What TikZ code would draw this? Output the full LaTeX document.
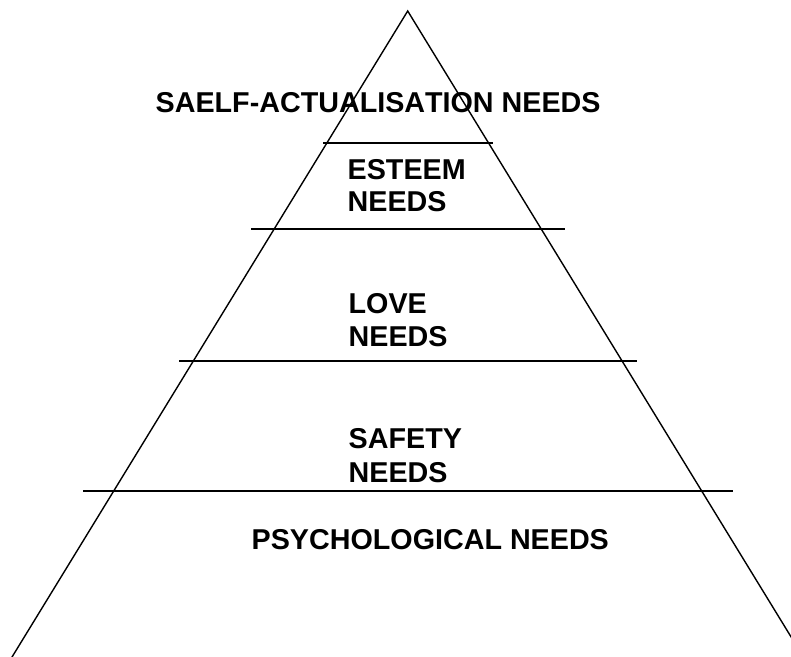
\documentclass[tikz,border=0pt]{standalone}
\usepackage{fontspec}
\setmainfont[Kerning=Off]{Liberation Sans}
\begin{document}
\begin{tikzpicture}[x=1pt,y=-1pt,
  lbl/.style={font=\fontsize{28.7}{34}\selectfont\bfseries, inner sep=0pt, anchor=base west},
  rule/.style={line width=1.4pt}]
\useasboundingbox (0,0) rectangle (791,656);
\coordinate (apex) at (407.7,11);
\coordinate (bl) at (-21.05,711);
\coordinate (br) at (836.45,711);
\begin{scope}
  \clip (0,0) rectangle (791,656);
  \draw[rule, line join=miter] (bl) -- (apex) -- (br);
\end{scope}
% level lines
\coordinate (l1a) at (323,143); \coordinate (l1b) at (493,143);
\coordinate (l2a) at (251,229); \coordinate (l2b) at (565,229);
\coordinate (l3a) at (179,361); \coordinate (l3b) at (637,361);
\coordinate (l4a) at (83,491);  \coordinate (l4b) at (733,491);
\draw[rule] (l1a) -- (l1b);
\draw[rule] (l2a) -- (l2b);
\draw[rule] (l3a) -- (l3b);
\draw[rule] (l4a) -- (l4b);
% labels
\node[lbl] (self) at (155.5,112) {SAELF-ACTUALISATION NEEDS};
\node[lbl] (est1) at (347.5,179) {ESTEEM};
\node[lbl] (est2) at (347.5,211.5) {NEEDS};
\node[lbl] (love1) at (348.5,313.5) {LOVE};
\node[lbl] (love2) at (348.5,346.5) {NEEDS};
\node[lbl] (saf1) at (348.5,448) {SAFETY};
\node[lbl] (saf2) at (348.5,482) {NEEDS};
\node[lbl] (psy) at (251.5,549) {PSYCHOLOGICAL NEEDS};
\end{tikzpicture}
\end{document}
